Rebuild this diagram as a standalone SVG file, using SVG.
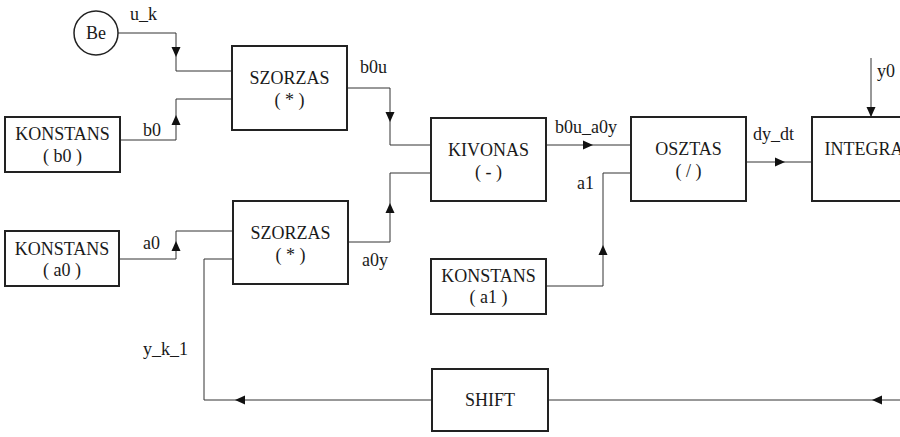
<svg xmlns="http://www.w3.org/2000/svg" width="900" height="437" viewBox="0 0 900 437">
<style>
.box{fill:#fff;stroke:#222;stroke-width:2}
.wire{fill:none;stroke:#333;stroke-width:1}
.t{font-family:'Liberation Serif','Times New Roman',serif;font-size:18px;fill:#1a1a1a}
.c{text-anchor:middle}
.ah{fill:#111}
</style>
<defs>
<path id="ah" d="M0,0 L-10,-4.5 L-10,4.5 Z"/>
</defs>
<rect width="900" height="437" fill="#fff"/>
<g id="connectors">
<path class="wire" d="M118,33 H176 V71 H232"/>
<path class="wire" d="M120,140 H176 V99 H232"/>
<path class="wire" d="M119,259 H176 V231 H233"/>
<path class="wire" d="M432,400 H204 V259 H233"/>
<path class="wire" d="M900,400 H548"/>
<path class="wire" d="M347,88 H390 V145 H431"/>
<path class="wire" d="M348,242 H390 V173 H431"/>
<path class="wire" d="M546,145 H631"/>
<path class="wire" d="M546,286 H603 V173 H631"/>
<path class="wire" d="M746,162 H812"/>
<path class="wire" d="M871,58 V117"/>
<use href="#ah" class="ah" transform="translate(176,57) rotate(90)"/>
<use href="#ah" class="ah" transform="translate(176,115) rotate(-90)"/>
<use href="#ah" class="ah" transform="translate(176,241) rotate(-90)"/>
<use href="#ah" class="ah" transform="translate(390,122) rotate(90)"/>
<use href="#ah" class="ah" transform="translate(390,203) rotate(-90)"/>
<use href="#ah" class="ah" transform="translate(593,145)"/>
<use href="#ah" class="ah" transform="translate(603,245) rotate(-90)"/>
<use href="#ah" class="ah" transform="translate(785,162)"/>
<use href="#ah" class="ah" transform="translate(871,117) rotate(90)"/>
<use href="#ah" class="ah" transform="translate(235,400) rotate(180)"/>
<use href="#ah" class="ah" transform="translate(872,400) rotate(180)"/>
<text class="t" x="130" y="20">u_k</text>
<text class="t" x="143" y="136">b0</text>
<text class="t" x="143" y="249">a0</text>
<text class="t" x="360" y="73">b0u</text>
<text class="t" x="362" y="266">a0y</text>
<text class="t" x="555" y="133">b0u_a0y</text>
<text class="t" x="577" y="189">a1</text>
<text class="t" x="753" y="140">dy_dt</text>
<text class="t" x="877" y="77">y0</text>
<text class="t" x="143" y="355">y_k_1</text>
</g>
<g id="be">
<circle cx="96" cy="33" r="22" fill="#fff" stroke="#222" stroke-width="1.5"/>
<text class="t c" x="96" y="39">Be</text>
</g>
<g id="konstans-b0">
<rect class="box" x="5" y="117" width="115" height="55"/>
<text class="t c" x="62.5" y="140">KONSTANS</text>
<text class="t c" x="62.5" y="162">( b0 )</text>
</g>
<g id="konstans-a0">
<rect class="box" x="5" y="231" width="114" height="55"/>
<text class="t c" x="62" y="255">KONSTANS</text>
<text class="t c" x="62" y="276">( a0 )</text>
</g>
<g id="szorzas1">
<rect class="box" x="232" y="46" width="115" height="84"/>
<text class="t c" x="289.5" y="84">SZORZAS</text>
<text class="t c" x="289.5" y="106">( * )</text>
</g>
<g id="szorzas2">
<rect class="box" x="233" y="201" width="115" height="83"/>
<text class="t c" x="290.5" y="239">SZORZAS</text>
<text class="t c" x="290.5" y="261">( * )</text>
</g>
<g id="kivonas">
<rect class="box" x="431" y="118" width="115" height="83"/>
<text class="t c" x="488.5" y="156">KIVONAS</text>
<text class="t c" x="488.5" y="178">( - )</text>
</g>
<g id="konstans-a1">
<rect class="box" x="431" y="259" width="115" height="55"/>
<text class="t c" x="488.5" y="282">KONSTANS</text>
<text class="t c" x="488.5" y="303">( a1 )</text>
</g>
<g id="osztas">
<rect class="box" x="631" y="117" width="115" height="84"/>
<text class="t c" x="688.5" y="155">OSZTAS</text>
<text class="t c" x="688.5" y="177">( / )</text>
</g>
<g id="integral">
<rect class="box" x="812" y="117" width="115" height="84"/>
<text class="t c" x="869.5" y="155">INTEGRAL</text>
</g>
<g id="shift">
<rect class="box" x="432" y="369" width="116" height="62"/>
<text class="t c" x="490" y="406">SHIFT</text>
</g>
</svg>
